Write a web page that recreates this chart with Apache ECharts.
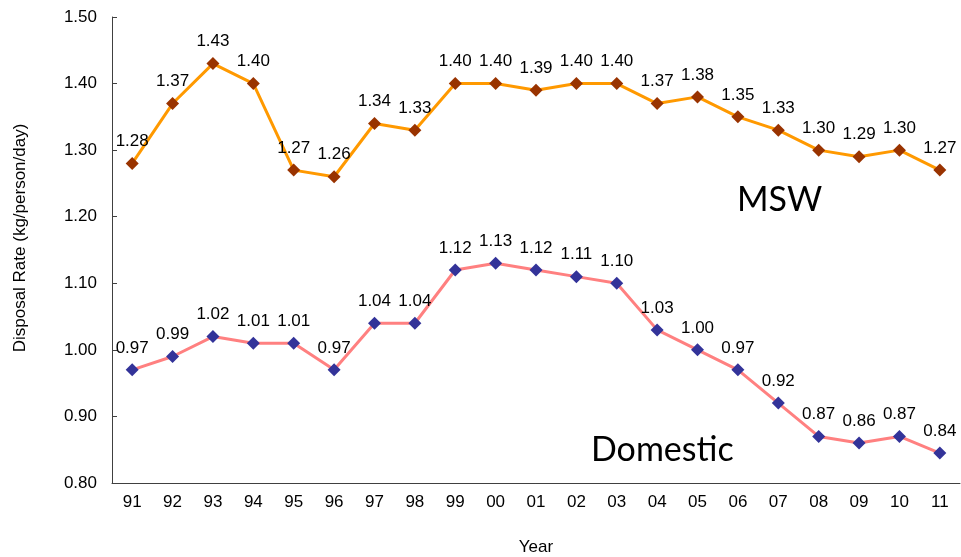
<!DOCTYPE html>
<html><head><meta charset="utf-8">
<script src="https://cdn.jsdelivr.net/npm/echarts@6/dist/echarts.min.js"></script>
<style>html,body{margin:0;padding:0;background:#fff}#c{width:961px;height:557px}</style>
</head><body><div id="c"></div>
<script>
const years = ['91','92','93','94','95','96','97','98','99','00','01','02','03','04','05','06','07','08','09','10','11'];
const msw = [1.28,1.37,1.43,1.40,1.27,1.26,1.34,1.33,1.40,1.40,1.39,1.40,1.40,1.37,1.38,1.35,1.33,1.30,1.29,1.30,1.27];
const domestic = [0.97,0.99,1.02,1.01,1.01,0.97,1.04,1.04,1.12,1.13,1.12,1.11,1.10,1.03,1.00,0.97,0.92,0.87,0.86,0.87,0.845];
const domesticLabels = [0.97,0.99,1.02,1.01,1.01,0.97,1.04,1.04,1.12,1.13,1.12,1.11,1.10,1.03,1.00,0.97,0.92,0.87,0.86,0.87,0.84];

const chart = echarts.init(document.getElementById('c'));
const font = '"Liberation Sans", Arial, sans-serif';
chart.setOption({
  animation: false,
  grid: {left: 112, top: 17, right: 1, bottom: 74, containLabel: false, outerBoundsMode: 'none'},
  xAxis: {
    type: 'category', data: years, boundaryGap: true,
    name: 'Year', nameLocation: 'middle', nameGap: 56,
    nameTextStyle: {fontFamily: font, fontSize: 17, color: '#000'},
    axisLine: {lineStyle: {color: '#404040', width: 1}},
    axisTick: {show: false},
    axisLabel: {fontFamily: font, fontSize: 17, color: '#000', margin: 11}
  },
  yAxis: {
    type: 'value', min: 0.8, max: 1.5, interval: 0.1,
    axisLine: {show: true, lineStyle: {color: '#404040', width: 1}},
    axisTick: {show: true, inside: true, length: 5, lineStyle: {color: '#404040'}},
    splitLine: {show: false},
    axisLabel: {fontFamily: font, fontSize: 17, color: '#000', margin: 15, formatter: v => v.toFixed(2)}
  },
  series: [
    {
      name: 'MSW', type: 'line', data: msw,
      symbol: 'diamond', symbolSize: 13,
      lineStyle: {color: '#FF9900', width: 3},
      itemStyle: {color: '#993300'},
      label: {show: true, position: 'top', distance: 7, fontFamily: font, fontSize: 17, color: '#000',
        formatter: p => p.value.toFixed(2)}
    },
    {
      name: 'Domestic', type: 'line', data: domestic,
      symbol: 'diamond', symbolSize: 13,
      lineStyle: {color: '#FF8080', width: 3},
      itemStyle: {color: '#333399'},
      label: {show: true, position: 'top', distance: 7, fontFamily: font, fontSize: 17, color: '#000',
        formatter: p => domesticLabels[p.dataIndex].toFixed(2)}
    }
  ],
  graphic: [
    {type: 'text', left: 737, top: 183, style: {text: 'MSW', font: '34px Lato, "Open Sans", sans-serif', fill: '#000'}},
    {type: 'text', left: 591, top: 433, style: {text: 'Domestic', font: '34px Lato, "Open Sans", sans-serif', fill: '#000'}},
    {type: 'text', x: 20, y: 238, rotation: Math.PI / 2,
      style: {text: 'Disposal Rate (kg/person/day)', font: '17px "Liberation Sans", Arial, sans-serif', fill: '#000',
        align: 'center', verticalAlign: 'middle'}}
  ]
});
</script></body></html>
